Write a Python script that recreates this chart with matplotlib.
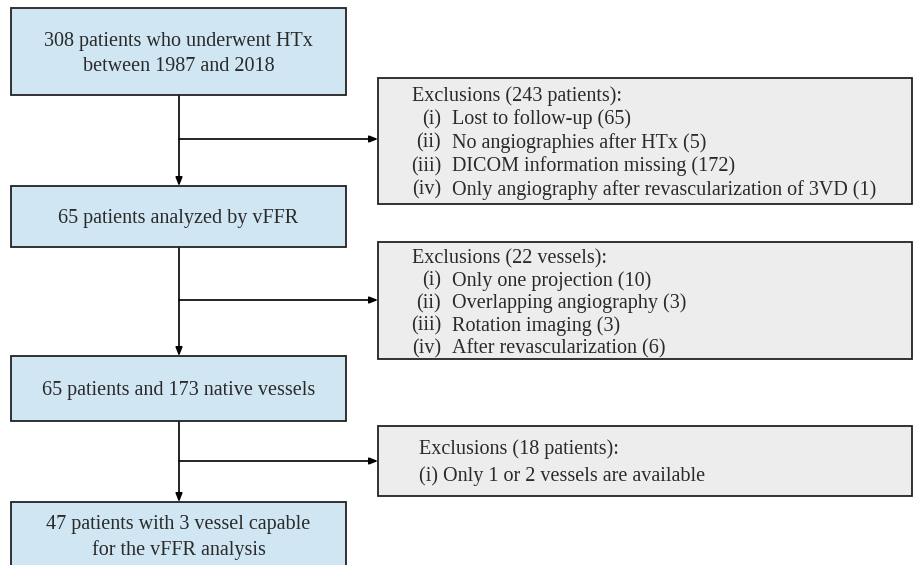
import matplotlib.pyplot as plt
from matplotlib.patches import Rectangle

# flow boxes (main column)
main_texts = [
    "308 patients who underwent HTx\nbetween 1987 and 2018",
    "65 patients analyzed by vFFR",
    "65 patients and 173 native vessels",
    "47 patients with 3 vessel capable\nfor the vFFR analysis",
]

# exclusion boxes
excl_titles = [
    "Exclusions (243 patients):",
    "Exclusions (22 vessels):",
    "Exclusions (18 patients):",
]
excl_nums = [
    ["(i)", "(ii)", "(iii)", "(iv)"],
    ["(i)", "(ii)", "(iii)", "(iv)"],
    [],
]
excl_items = [
    ["Lost to follow-up (65)", "No angiographies after HTx (5)",
     "DICOM information missing (172)",
     "Only angiography after revascularization of 3VD (1)"],
    ["Only one projection (10)", "Overlapping angiography (3)",
     "Rotation imaging (3)", "After revascularization (6)"],
    ["(i) Only 1 or 2 vessels are available"],
]

# layout in pixels
W, H = 916, 565
main_box = [(8, 95), (186, 247), (356, 421), (502, 575)]
excl_box = [(78, 204), (242, 359), (426, 496)]
excl_title_off = [18, 16.5, 23]
excl_step = [23.5, 22.5, 27]
arrow_y = [139, 300, 461]
mx0, mx1 = 11, 346
ex0, ex1 = 378, 912
cx = 179

blue = "#d0e6f3"
grey = "#ededed"
edge = "#222222"
tcol = "#2a2a2a"
font = ["Liberation Serif", "DejaVu Serif"]
fs = 14.5

fig = plt.figure(figsize=(W / 100, H / 100), dpi=100)
ax = fig.add_axes([0, 0, 1, 1])
ax.set_xlim(0, W)
ax.set_ylim(H, 0)
ax.axis("off")

for (y0, y1), txt in zip(main_box, main_texts):
    ax.add_patch(Rectangle((mx0, y0), mx1 - mx0, y1 - y0, facecolor=blue,
                           edgecolor=edge, lw=1.3, zorder=2))
    yc = (y0 + y1) / 2 if y1 <= H else y0 + 33
    ax.text((mx0 + mx1) / 2, yc + 2.5, txt, ha="center", va="center",
            fontsize=fs, family=font, color=tcol, linespacing=1.4, zorder=3)

for i, (y0, y1) in enumerate(excl_box):
    ax.add_patch(Rectangle((ex0, y0), ex1 - ex0, y1 - y0, facecolor=grey,
                           edgecolor=edge, lw=1.3, zorder=2))
    ty = y0 + excl_title_off[i]
    if excl_nums[i]:
        ax.text(412, ty, excl_titles[i], ha="left", va="center",
                fontsize=fs, family=font, color=tcol, zorder=3)
        for k, (n, t) in enumerate(zip(excl_nums[i], excl_items[i])):
            yy = ty + excl_step[i] * (k + 1)
            ax.text(441, yy, n, ha="right", va="center", fontsize=fs,
                    family=font, color=tcol, zorder=3)
            ax.text(452, yy, t, ha="left", va="center", fontsize=fs,
                    family=font, color=tcol, zorder=3)
    else:
        ax.text(419, ty, excl_titles[i], ha="left", va="center",
                fontsize=fs, family=font, color=tcol, zorder=3)
        ax.text(419, ty + excl_step[i], excl_items[i][0], ha="left",
                va="center", fontsize=fs, family=font, color=tcol, zorder=3)

arrow = dict(arrowstyle="-|>,head_length=0.5,head_width=0.2", color="black",
             lw=1.2, shrinkA=0, shrinkB=0)
for i in range(3):
    ax.annotate("", xy=(cx, main_box[i + 1][0]), xytext=(cx, main_box[i][1]),
                arrowprops=arrow, zorder=1)
    ax.annotate("", xy=(ex0, arrow_y[i]), xytext=(cx, arrow_y[i]),
                arrowprops=arrow, zorder=1)

fig.savefig("out.png", dpi=100)
